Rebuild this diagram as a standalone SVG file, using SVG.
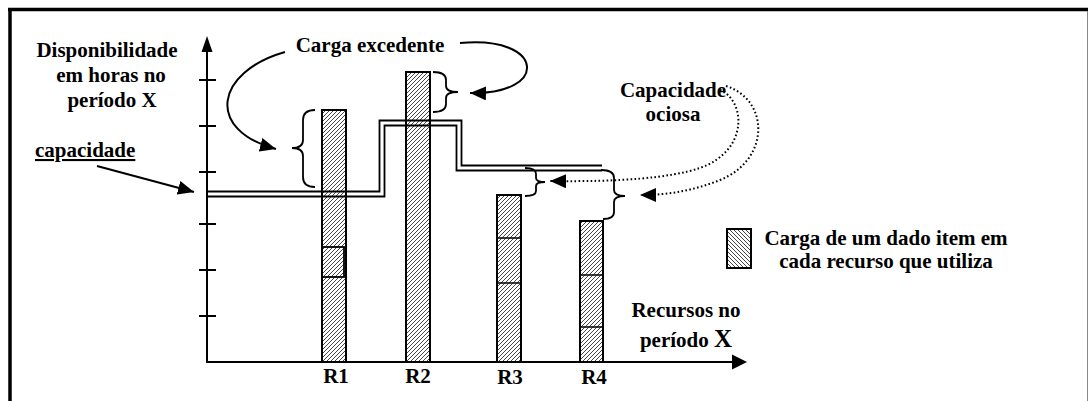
<svg xmlns="http://www.w3.org/2000/svg" width="1089" height="401" viewBox="0 0 1089 401">
<style>
text{font-family:"Liberation Serif","Times New Roman",serif;font-weight:bold;font-size:21px;fill:#000}
.ax{stroke:#000;stroke-width:2;fill:none}
.bar{fill:url(#hatch);stroke:#000;stroke-width:2}
.seg{stroke:#000;stroke-width:1.6}
.cap{stroke:#000;stroke-width:1.8;fill:none}
.brace{stroke:#000;stroke-width:1.8;fill:none}
.arr{stroke:#000;stroke-width:2;fill:none;marker-end:url(#ah)}
.dot{stroke:#000;stroke-width:2;fill:none;stroke-dasharray:1.6 2.4;marker-end:url(#ah)}
</style>
<defs>
<pattern id="hatch" patternUnits="userSpaceOnUse" width="4" height="4">
<rect width="4" height="4" fill="#fff"/>
<path d="M-1,1 L1,-1 M0,4 L4,0 M3,5 L5,3" stroke="#333" stroke-width="0.9"/>
</pattern>
<pattern id="hatch2" patternUnits="userSpaceOnUse" width="4" height="4">
<rect width="4" height="4" fill="#fff"/>
<path d="M-1,3 L1,5 M0,0 L4,4 M3,-1 L5,1" stroke="#333" stroke-width="0.9"/>
</pattern>
<marker id="ah" markerUnits="userSpaceOnUse" viewBox="0 0 16 14" refX="16" refY="7" markerWidth="16" markerHeight="14" orient="auto">
<path d="M0,0 L16,7 L0,14 z" fill="#000"/>
</marker>
</defs>
<rect width="1089" height="401" fill="#fff"/>
<g id="frame">
<line x1="8" y1="9.5" x2="1088" y2="9.5" stroke="#000" stroke-width="3.5"/>
<line x1="10" y1="8" x2="10" y2="401" stroke="#000" stroke-width="3.5"/>
<line x1="1087.5" y1="11" x2="1087.5" y2="401" stroke="#888" stroke-width="1"/>
</g>
<g id="axes">
<path class="ax" d="M207,362 V50 M206,362 H734"/>
<path d="M207,36 L201.5,52 L212.5,52 z" fill="#000"/>
<path d="M747,362 L732,354.5 L732,369.5 z" fill="#000"/>
<path class="ax" d="M199,80 H216 M199,126 H216 M199,172 H216 M199,224 H216 M199,270 H216 M199,316 H216"/>
</g>
<g id="bar-R1">
<rect class="bar" x="322" y="110" width="24" height="252"/>
<rect x="322" y="247" width="22" height="30" fill="none" stroke="#000" stroke-width="1.8"/>
<text x="336" y="383" text-anchor="middle">R1</text>
</g>
<g id="bar-R2">
<rect class="bar" x="406" y="72" width="24" height="290"/>
<text x="418" y="383" text-anchor="middle">R2</text>
</g>
<g id="bar-R3">
<rect class="bar" x="497" y="195" width="24" height="167"/>
<path class="seg" d="M497,238 H521 M497,283 H521"/>
<text x="510" y="384" text-anchor="middle">R3</text>
</g>
<g id="bar-R4">
<rect class="bar" x="580" y="221" width="23" height="141"/>
<path class="seg" d="M580,275 H603 M580,327 H603"/>
<text x="594" y="384" text-anchor="middle">R4</text>
</g>
<g id="capacity-line">
<path class="cap" d="M207,191.5 H379.5 V120.5 H461.5 V165.5 H602"/>
<path class="cap" d="M207,196.5 H384.5 V125.5 H456.5 V170.5 H602"/>
</g>
<g id="braces">
<path class="brace" d="M315,110 Q303,110 303,120 V140 Q303,148 292,148 Q303,148 303,156 V177 Q303,187 315,187"/>
<path class="brace" d="M433,72 Q446,72 446,80 V86 Q446,92 458,92 Q446,92 446,98 V104 Q446,112 433,112"/>
<path class="brace" d="M525,168 Q536,168 536,174 V178 Q536,182 545,182 Q536,182 536,186 V191 Q536,196 525,196"/>
<path class="brace" d="M601,170 Q614,170 614,178 V190 Q614,196 625,196 Q614,196 614,202 V212 Q614,219 603,219"/>
</g>
<g id="labels">
<text x="107" y="57" text-anchor="middle">Disponibilidade</text>
<text x="111" y="82" text-anchor="middle">em horas no</text>
<text x="112" y="107" text-anchor="middle">período X</text>
<text x="35" y="157" text-decoration="underline">capacidade</text>
<text x="370" y="52" text-anchor="middle">Carga excedente</text>
<text x="673" y="97" text-anchor="middle">Capacidade</text>
<text x="673" y="121" text-anchor="middle">ociosa</text>
<text x="686" y="317" text-anchor="middle">Recursos no</text>
<text x="686" y="347" text-anchor="middle">período <tspan font-size="25">X</tspan></text>
</g>
<g id="legend">
<rect x="727" y="229" width="24" height="39" fill="url(#hatch2)" stroke="#000" stroke-width="2"/>
<text x="886" y="245" text-anchor="middle">Carga de um dado item em</text>
<text x="886" y="268" text-anchor="middle">cada recurso que utiliza</text>
</g>
<g id="connectors">
<path class="arr" d="M97,166 L194,192"/>
<path class="arr" d="M285,52 C215,72 205,130 276,149"/>
<path class="arr" d="M460,43 C545,35 550,95 470,93"/>
<path class="dot" d="M720,90 C745,100 750,150 700,168 C670,178 620,182 550,181"/>
<path class="dot" d="M726,86 C770,100 770,160 720,180 C695,190 670,195 640,195"/>
</g>
</svg>
